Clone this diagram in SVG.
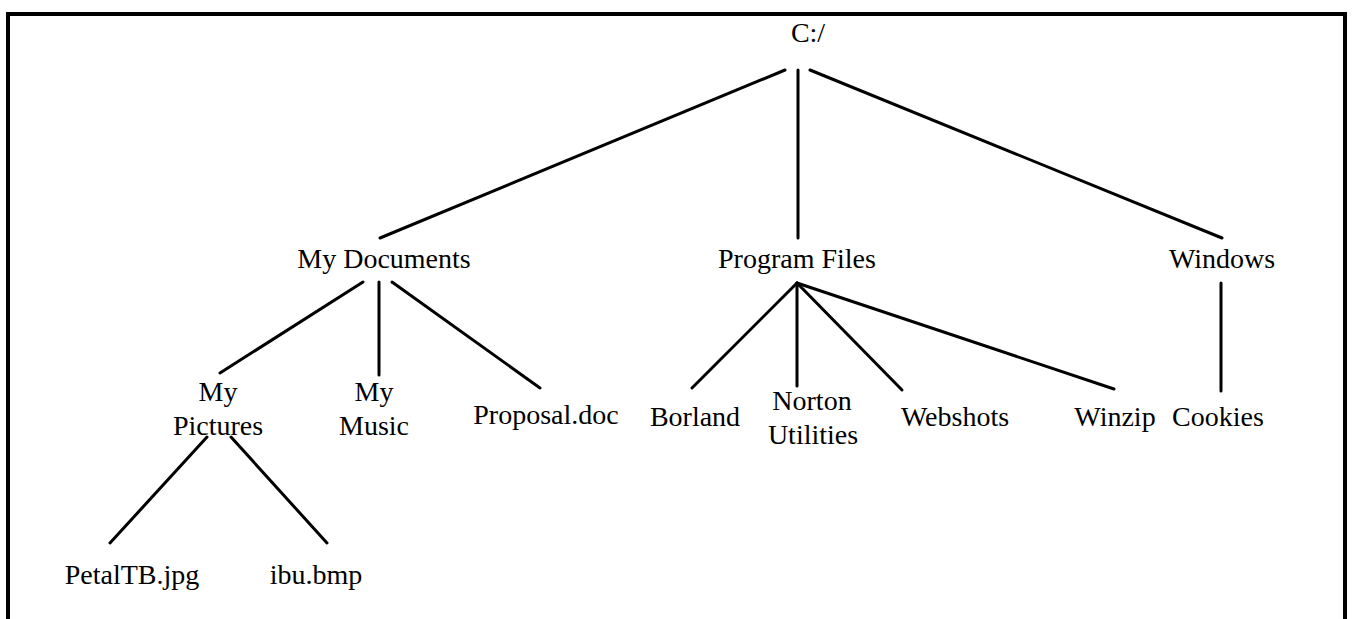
<svg xmlns="http://www.w3.org/2000/svg" width="1352" height="619" viewBox="0 0 1352 619">
<style>
text{font-family:"Liberation Serif","Times New Roman",serif;font-size:28px;fill:#000;text-anchor:middle}
.c line{stroke:#000;stroke-width:3;stroke-linecap:round}
</style>
<rect width="1352" height="619" fill="#fff"/>
<path d="M8,619 V14 H1345 V619" fill="none" stroke="#000" stroke-width="4"/>
<g class="c" id="connectors">
<line x1="785" y1="70" x2="380" y2="238"/>
<line x1="798" y1="70" x2="798" y2="238"/>
<line x1="810" y1="70" x2="1222" y2="238"/>
<line x1="363" y1="282" x2="220" y2="373"/>
<line x1="379" y1="282" x2="379" y2="375"/>
<line x1="392" y1="282" x2="540" y2="388"/>
<line x1="797" y1="283" x2="692" y2="388"/>
<line x1="797" y1="283" x2="797" y2="386"/>
<line x1="797" y1="283" x2="902" y2="390"/>
<line x1="797" y1="283" x2="1114" y2="389"/>
<line x1="1221" y1="283" x2="1221" y2="391"/>
<line x1="207" y1="437" x2="110" y2="543"/>
<line x1="231" y1="437" x2="327" y2="543"/>
</g>
<g id="root"><text x="808" y="42">C:/</text></g>
<g id="mydocs"><text x="384" y="268">My Documents</text></g>
<g id="progfiles"><text x="797" y="268">Program Files</text></g>
<g id="windows"><text x="1222" y="268">Windows</text></g>
<g id="mypictures"><text x="218" y="401">My</text><text x="218" y="435">Pictures</text></g>
<g id="mymusic"><text x="374" y="401">My</text><text x="374" y="435">Music</text></g>
<g id="proposal"><text x="546" y="424">Proposal.doc</text></g>
<g id="borland"><text x="695" y="426">Borland</text></g>
<g id="norton"><text x="812" y="410">Norton</text><text x="813" y="444">Utilities</text></g>
<g id="webshots"><text x="955" y="426">Webshots</text></g>
<g id="winzip"><text x="1115" y="426">Winzip</text></g>
<g id="cookies"><text x="1218" y="426">Cookies</text></g>
<g id="petal"><text x="132" y="584">PetalTB.jpg</text></g>
<g id="ibu"><text x="316" y="584">ibu.bmp</text></g>
</svg>
